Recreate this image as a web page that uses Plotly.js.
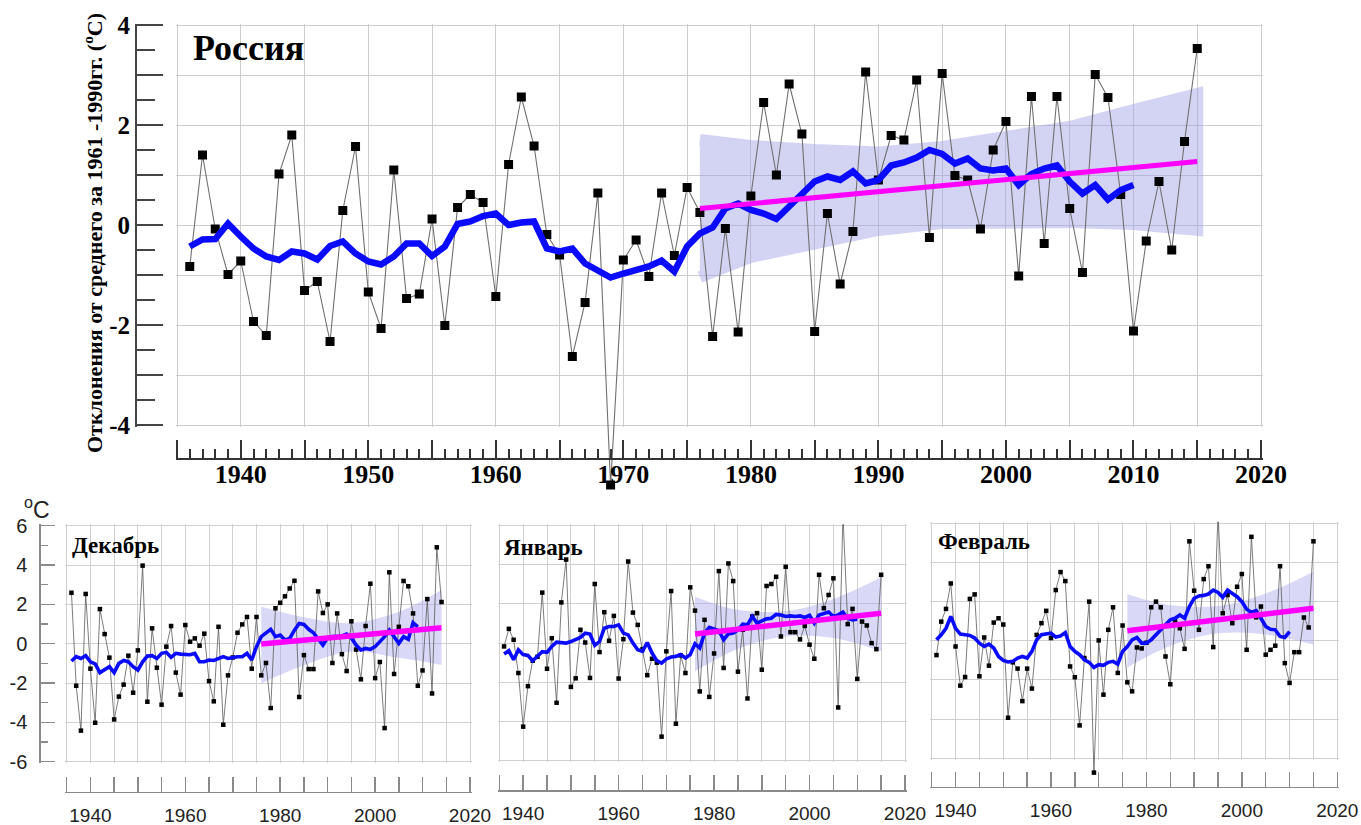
<!DOCTYPE html>
<html>
<head>
<meta charset="utf-8">
<script src="https://cdn.plot.ly/plotly-3.0.1.min.js"></script>
<style>
  html, body { margin: 0; padding: 0; background: #fff; }
  #chart { width: 1361px; height: 825px; }
</style>
</head>
<body>
<div id="chart"></div>
<script>
// ---------------- data ----------------
function yearsFrom(first, count) { const out = []; for (let i = 0; i < count; i++) out.push(first + i); return out; }

// Russia, mean annual temperature anomaly (vs 1961-1990), °C
const rusYears = yearsFrom(1936, 80);
const rusValues = [
  -0.83, 1.40, -0.08, -0.99, -0.72, -1.93, -2.21, 1.02, 1.80, -1.31,
  -1.13, -2.33, 0.29, 1.57, -1.34, -2.07, 1.10, -1.47, -1.38, 0.12,
  -2.01, 0.35, 0.61, 0.45, -1.43, 1.21, 2.56, 1.58, -0.19, -0.60,
  -2.63, -1.55, 0.64, -5.20, -0.70, -0.30, -1.03, 0.64, -0.61, 0.75,
  0.25, -2.23, -0.07, -2.14, 0.58, 2.45, 1.00, 2.82, 1.82, -2.13,
  0.23, -1.18, -0.13, 3.06, 0.90, 1.79, 1.70, 2.90, -0.25, 3.03,
  0.99, 0.90, -0.08, 1.50, 2.07, -1.02, 2.57, -0.37, 2.57, 0.33,
  -0.95, 3.01, 2.55, 0.61, -2.12, -0.32, 0.87, -0.50, 1.67, 3.53
];
const rusSmoothYears = yearsFrom(1936, 75);
const rusSmooth = [
  -0.43, -0.29, -0.28, 0.03, -0.23, -0.47, -0.63, -0.70, -0.53, -0.57,
  -0.69, -0.42, -0.33, -0.57, -0.73, -0.79, -0.63, -0.37, -0.37, -0.62,
  -0.43, 0.02, 0.07, 0.18, 0.23, 0.00, 0.05, 0.07, -0.47, -0.53,
  -0.47, -0.77, -0.91, -1.05, -0.97, -0.89, -0.83, -0.71, -0.93, -0.43,
  -0.17, -0.05, 0.33, 0.43, 0.30, 0.23, 0.12, 0.37, 0.63, 0.87,
  0.97, 0.90, 1.07, 0.83, 0.90, 1.19, 1.25, 1.35, 1.50, 1.42,
  1.23, 1.33, 1.13, 1.09, 1.13, 0.80, 1.02, 1.13, 1.19, 0.87,
  0.63, 0.80, 0.51, 0.70, 0.80
];
const rusTrendYears = [1976, 2015];
const rusTrend = [0.33, 1.27];
const rusBandYears = [1976, 1980, 1985, 1990, 1995, 2000, 2005, 2010, 2015];
const rusBandUpper = [1.70, 1.58, 1.50, 1.45, 1.56, 1.74, 1.96, 2.30, 2.62];
const rusBandLower = [-1.04, -0.64, -0.40, -0.10, 0.04, 0.06, 0.06, 0.02, -0.10];

// December
const decYears = yearsFrom(1936, 79);
const decValues = [
  2.59, -2.14, -4.42, 2.53, -1.27, -4.02, 1.76, 0.49, -0.71, -3.85,
  -2.69, -2.08, -0.61, -2.49, -0.34, 3.97, -2.95, 0.78, -1.22, -3.10,
  -0.15, 0.90, -1.47, -2.59, 0.95, 0.10, 0.27, -0.10, 0.51, -1.90,
  -2.93, 0.86, -4.12, -1.61, -0.70, 0.56, 0.98, 1.36, -1.27, 1.36,
  -1.61, -0.98, -3.27, 1.80, 2.08, 2.41, 2.81, 3.20, -2.71, -0.58,
  -1.29, -1.29, 2.66, 1.56, 2.00, -0.98, 1.54, -0.53, -1.39, 1.14,
  -0.30, -1.81, 0.90, 3.05, -1.75, -0.93, -4.29, 3.63, -1.54, 0.86,
  3.19, 2.92, 1.54, -2.14, -1.36, 2.27, -2.53, 4.90, 2.12
];
const decSmoothYears = yearsFrom(1936, 74);
const decSmooth = [
  -0.88, -0.66, -0.75, -0.61, -0.92, -1.03, -1.47, -1.34, -1.17, -1.47,
  -1.00, -0.85, -0.92, -1.17, -1.34, -0.92, -0.63, -0.61, -0.75, -0.49,
  -0.44, -0.69, -0.49, -0.53, -0.56, -0.56, -0.49, -0.92, -0.92, -0.83,
  -0.85, -0.75, -0.66, -0.75, -0.69, -0.66, -0.66, -0.49, -0.83, -0.15,
  0.36, 0.56, 0.73, 0.36, 0.44, 0.19, 0.27, 0.69, 1.03, 0.98,
  0.73, 0.56, 0.27, -0.07, 0.31, 0.36, 0.36, 0.39, 0.49, 0.29,
  -0.07, -0.32, -0.24, -0.29, -0.15, 0.10, 0.36, 0.69, 0.36, 0.02,
  0.36, 0.22, 1.07, 0.86
];
const decTrendYears = [1976, 2014];
const decTrend = [-0.02, 0.81];
const decBandYears = [1976, 1985, 1995, 2005, 2014];
const decBandUpper = [1.88, 1.35, 1.05, 1.62, 2.73];
const decBandLower = [-2.02, -1.10, -0.40, -0.72, -1.08];

// January
const janYears = yearsFrom(1936, 80);
const janValues = [
  -0.17, 0.73, 0.17, -1.53, -4.27, -2.20, -0.90, -0.70, 2.58, -1.31,
  0.25, -3.05, 2.08, 4.27, -2.24, -1.80, 0.68, 0.03, -1.78, 3.02,
  -0.46, 1.58, 0.12, 1.39, -1.81, 0.20, 4.17, 1.56, 0.93, -0.31,
  -1.64, -0.80, -1.00, -4.78, -0.42, 2.66, -4.12, -0.63, -1.53, 2.85,
  1.66, -2.47, 1.19, -2.75, -0.53, 3.68, -1.27, 4.07, 3.17, -1.46,
  0.68, -2.83, 1.36, 1.53, -1.36, 2.92, 3.02, 3.39, 0.34, 3.90,
  0.56, 0.56, 0.19, 0.88, -0.08, -0.80, 3.49, 1.78, 2.46, 3.31,
  -3.29, 6.58, 0.97, 1.75, -1.83, 1.10, 0.90, 0.00, -0.31, 3.49
];
const janSmoothYears = yearsFrom(1936, 75);
const janSmooth = [
  -0.56, -0.39, -0.85, -0.34, -0.59, -0.63, -0.90, -0.68, -0.44, -0.47,
  -0.17, 0.05, 0.03, 0.00, 0.08, 0.17, 0.29, 0.51, 0.46, -0.12,
  0.08, 0.76, 0.85, 0.85, 0.93, 0.51, 0.42, 0.00, -0.34, -0.42,
  0.03, -0.51, -0.90, -1.02, -0.81, -0.71, -0.68, -0.59, -0.76, -0.59,
  -0.03, -0.25, 0.51, 0.80, 0.71, 0.63, 0.17, 0.47, 0.51, 0.68,
  0.97, 0.93, 1.36, 1.02, 1.14, 1.24, 1.27, 1.47, 1.44, 1.36,
  1.39, 1.36, 1.39, 1.31, 1.42, 1.02, 1.44, 1.53, 1.59, 1.36,
  1.44, 1.58, 1.27, 1.19, 1.22
];
const janTrendYears = [1976, 2015];
const janTrend = [0.47, 1.53];
const janBandYears = [1976, 1985, 1995, 2005, 2015];
const janBandUpper = [2.37, 1.70, 1.64, 2.26, 3.36];
const janBandLower = [-1.44, -0.30, 0.34, 0.26, -0.42];

// February
const febYears = yearsFrom(1936, 80);
const febValues = [
  -0.73, 0.98, 1.63, 2.93, -0.29, -2.29, -1.85, 2.14, 2.37, -1.81,
  0.17, -1.27, 0.93, 1.15, 0.83, -3.93, -1.10, -1.42, -3.08, -1.42,
  -2.44, 0.30, 0.90, 1.53, 0.14, 2.59, 3.51, 3.05, -1.31, -1.86,
  -4.32, -0.88, 2.00, -6.73, 0.02, -2.75, 0.56, 1.71, -1.64, 0.78,
  -2.12, -2.58, -0.34, -0.39, -0.10, 1.71, 2.00, 1.71, -0.80, -2.22,
  1.00, 0.64, -0.41, 5.08, 2.56, 0.56, 3.15, 3.81, -0.32, 6.46,
  1.41, 2.34, 0.90, 2.76, 3.41, -0.46, 5.31, 1.20, 1.75, -0.71,
  -0.46, -0.25, 3.81, -1.14, -2.15, -0.58, -0.58, 1.19, 0.68, 5.08
];
const febSmoothYears = yearsFrom(1936, 75);
const febSmooth = [
  0.05, 0.31, 0.64, 1.24, 0.64, 0.34, 0.31, 0.27, 0.14, -0.12,
  -0.29, -0.17, -0.37, -0.80, -1.00, -1.08, -1.05, -0.88, -0.80, -0.88,
  -0.54, 0.05, 0.31, 0.34, 0.39, 0.19, 0.25, 0.42, -0.29, -0.54,
  -0.71, -0.97, -1.10, -1.36, -1.22, -1.25, -1.10, -1.05, -1.19, -0.54,
  -0.29, 0.05, 0.17, -0.12, -0.12, 0.05, 0.31, 0.56, 0.81, 1.07,
  1.15, 1.32, 1.15, 1.75, 2.17, 2.29, 2.32, 2.39, 2.59, 2.47,
  2.22, 2.59, 2.42, 2.25, 2.00, 1.61, 1.46, 1.54, 1.15, 0.73,
  0.59, 0.56, 0.22, 0.17, 0.47
];
const febTrendYears = [1976, 2015];
const febTrend = [0.51, 1.66];
const febBandYears = [1976, 1985, 1995, 2005, 2015];
const febBandUpper = [2.38, 1.83, 1.78, 2.42, 3.53];
const febBandLower = [-1.36, -0.27, 0.38, 0.32, -0.20];

// axis ticks and labels
const mainXTicks = [1935, 1940, 1945, 1950, 1955, 1960, 1965, 1970, 1975, 1980, 1985, 1990, 1995, 2000, 2005, 2010, 2015, 2020];
const mainXLabels = ['', '1940', '', '1950', '', '1960', '', '1970', '', '1980', '', '1990', '', '2000', '', '2010', '', '2020'];
const mainYTicks = [-4, -2, 0, 2, 4];
const mainYLabels = ['-4', '-2', '0', '2', '4'];
const mainYHalfTicks = [-3.5, -2.5, -1.5, -0.5, 0.5, 1.5, 2.5, 3.5];
const panelXTicks = [1940, 1960, 1980, 2000, 2020];
const panelXLabels = ['1940', '1960', '1980', '2000', '2020'];
const panelYTicks = [-6, -4, -2, 0, 2, 4, 6];
const panelYLabels = ['-6', '-4', '-2', '0', '2', '4', '6'];

// ---------------- layout helpers ----------------
const W = 1361, H = 825, PAD = 1.5;
const BLUE = '#0a0aff', MAGENTA = '#ff00ff';
const MAIN_AXIS_X = 136;

const charts = [
  { // Russia, annual
    box: { l: 177, r: 1261, t: 25, b: 425 }, yr: [-4, 4], dataBottom: 505, axisY: 459,
    years: rusYears, values: rusValues, smoothYears: rusSmoothYears, smooth: rusSmooth,
    trendYears: rusTrendYears, trend: rusTrend,
    bandYears: rusBandYears, bandUpper: rusBandUpper, bandLower: rusBandLower,
    main: true
  },
  { box: { l: 66.7, r: 470, t: 525.7, b: 761.7 }, yr: [-6, 6], dataBottom: 805, axisY: 791.5,
    years: decYears, values: decValues, smoothYears: decSmoothYears, smooth: decSmooth,
    trendYears: decTrendYears, trend: decTrend,
    bandYears: decBandYears, bandUpper: decBandUpper, bandLower: decBandLower, leftAxis: true },
  { box: { l: 499.3, r: 905, t: 525.7, b: 760.5 }, yr: [-6, 6], dataBottom: 805, axisY: 790,
    years: janYears, values: janValues, smoothYears: janSmoothYears, smooth: janSmooth,
    trendYears: janTrendYears, trend: janTrend,
    bandYears: janBandYears, bandUpper: janBandUpper, bandLower: janBandLower },
  { box: { l: 931.7, r: 1337.3, t: 523.3, b: 758.3 }, yr: [-6, 6], dataBottom: 805, axisY: 786.7,
    years: febYears, values: febValues, smoothYears: febSmoothYears, smooth: febSmooth,
    trendYears: febTrendYears, trend: febTrend,
    bandYears: febBandYears, bandUpper: febBandUpper, bandLower: febBandLower }
];

const layout = {
  width: W, height: H,
  margin: { l: 0, r: 0, t: 0, b: 0 },
  paper_bgcolor: '#ffffff',
  plot_bgcolor: 'rgba(0,0,0,0)',
  showlegend: false,
  hovermode: false,
  annotations: []
};
const traces = [];

charts.forEach((c, i) => {
  const g = i + 1, d = i + 5;
  const gx = g === 1 ? 'xaxis' : 'xaxis' + g, gy = g === 1 ? 'yaxis' : 'yaxis' + g;
  const gxId = g === 1 ? 'x' : 'x' + g, gyId = g === 1 ? 'y' : 'y' + g;
  const xs = (c.box.r - c.box.l) / 85;
  const ys = (c.box.b - c.box.t) / (c.yr[1] - c.yr[0]);
  const xdom = [(c.box.l - PAD) / W, (c.box.r + PAD) / W];
  const xrange = [1935 - PAD / xs, 2020 + PAD / xs];
  const gridColor = c.main ? '#cdcdcd' : '#d0d0d0';

  // background grid
  layout[gx] = {
    domain: xdom, range: xrange, anchor: gyId,
    tickmode: 'linear', tick0: 1935, dtick: 5,
    showgrid: true, gridcolor: gridColor, gridwidth: 1,
    showticklabels: false, ticks: '', zeroline: false, showline: false, fixedrange: true
  };
  const gyAxis = {
    domain: [1 - (c.box.b + PAD) / H, 1 - (c.box.t - PAD) / H],
    range: [c.yr[0] - PAD / ys, c.yr[1] + PAD / ys],
    showgrid: true, gridcolor: gridColor, gridwidth: 1, zeroline: false, fixedrange: true,
    tickmode: 'array'
  };
  if (c.main) {
    Object.assign(gyAxis, {
      tickvals: mainYTicks, ticktext: mainYLabels,
      anchor: 'free', position: MAIN_AXIS_X / W,
      showline: true, linecolor: '#444', linewidth: 2,
      ticks: 'inside', ticklen: 26, tickwidth: 2, tickcolor: '#444',
      tickfont: { family: 'Liberation Serif, Times New Roman, serif', size: 25, color: '#000', weight: 'bold' },
      minor: { tickmode: 'linear', tick0: 1, dtick: 1, ticks: 'inside', ticklen: 26, tickwidth: 2, tickcolor: '#444',
               showgrid: true, gridcolor: gridColor, gridwidth: 1 }
    });
  } else if (c.leftAxis) {
    Object.assign(gyAxis, {
      tickvals: panelYTicks, ticktext: panelYLabels,
      anchor: 'free', position: 39.3 / W,
      showline: true, linecolor: '#8a8a8a', linewidth: 1.5,
      ticks: 'inside', ticklen: 14, tickwidth: 1.5, tickcolor: '#8a8a8a',
      ticklabelstandoff: 8,
      tickfont: { family: 'Liberation Sans, Arial, sans-serif', size: 20, color: '#222' },
      minor: { tickmode: 'linear', tick0: 1, dtick: 1, ticks: 'inside', ticklen: 7, tickwidth: 1.5, tickcolor: '#8a8a8a', showgrid: false }
    });
  } else {
    Object.assign(gyAxis, {
      tickvals: panelYTicks, ticktext: panelYLabels,
      anchor: gxId, showticklabels: false, ticks: '', showline: false
    });
  }
  layout[gy] = gyAxis;
  // empty trace so the grid subplot is created
  traces.push({ type: 'scatter', xaxis: gxId, yaxis: gyId, x: [], y: [], mode: 'lines', hoverinfo: 'skip' });

  // data axes (bottom axis drawn apart from the grid box)
  const dx = 'xaxis' + d, dy = 'yaxis' + d;
  layout[dx] = {
    domain: xdom, range: xrange, anchor: 'free', position: 1 - c.axisY / H,
    tickmode: 'array', tickvals: c.main ? mainXTicks : panelXTicks, ticktext: c.main ? mainXLabels : panelXLabels,
    ticks: 'inside', showgrid: false, zeroline: false, showline: true, fixedrange: true,
    ticklen: c.main ? 18 : 15, tickwidth: c.main ? 2 : 1.5, tickcolor: c.main ? '#333' : '#8a8a8a',
    linecolor: c.main ? '#333' : '#8a8a8a', linewidth: c.main ? 2 : 1.5,
    ticklabelstandoff: c.main ? -8 : 6,
    tickfont: c.main
      ? { family: 'Liberation Serif, Times New Roman, serif', size: 26, color: '#000', weight: 'bold' }
      : { family: 'Liberation Sans, Arial, sans-serif', size: 19, color: '#222' },
    minor: c.main
      ? { tickmode: 'linear', tick0: 1935, dtick: 1, ticks: 'inside', ticklen: 9, tickwidth: 2, tickcolor: '#333', showgrid: false }
      : { tickmode: 'linear', tick0: 1935, dtick: 5, ticks: 'inside', ticklen: 15, tickwidth: 1.5, tickcolor: '#8a8a8a', showgrid: false }
  };
  layout[dy] = {
    domain: [1 - c.dataBottom / H, 1 - (c.box.t - PAD) / H],
    range: [c.yr[1] - (c.dataBottom - c.box.t) / ys, c.yr[1] + PAD / ys],
    anchor: 'x' + d, visible: false, fixedrange: true
  };
  if (c.main) {
    // the data axis shares the grid's scale: it carries the half-degree ticks
    Object.assign(layout[dy], {
      visible: true, anchor: 'free', position: MAIN_AXIS_X / W,
      tickmode: 'array', tickvals: mainYHalfTicks, showticklabels: false,
      ticks: 'inside', ticklen: 18, tickwidth: 2, tickcolor: '#444',
      showline: false, showgrid: false, zeroline: false
    });
  }

  const xa = 'x' + d, ya = 'y' + d;
  // confidence band of the linear trend
  if (c.main) {
    traces.push({
      type: 'scatter', xaxis: xa, yaxis: ya, mode: 'lines',
      x: c.bandYears.concat(c.bandYears.slice().reverse()),
      y: c.bandUpper.concat(c.bandLower.slice().reverse()),
      fill: 'toself', fillcolor: 'rgb(160,160,232)',
      line: { color: 'rgb(160,160,232)', width: 12 },
      opacity: 0.45, hoverinfo: 'skip'
    });
  } else {
    traces.push({
      type: 'scatter', xaxis: xa, yaxis: ya, mode: 'lines',
      x: c.bandYears, y: c.bandLower,
      line: { width: 0, shape: 'spline', smoothing: 1 }, hoverinfo: 'skip'
    });
    traces.push({
      type: 'scatter', xaxis: xa, yaxis: ya, mode: 'lines',
      x: c.bandYears, y: c.bandUpper, fill: 'tonexty', fillcolor: 'rgba(165,165,235,0.42)',
      line: { width: 0, shape: 'spline', smoothing: 1 }, hoverinfo: 'skip'
    });
  }
  // yearly values
  traces.push({
    type: 'scatter', xaxis: xa, yaxis: ya, mode: 'lines+markers',
    x: c.years, y: c.values, cliponaxis: false,
    line: { color: c.main ? '#707070' : '#5a5a5a', width: c.main ? 1.1 : 0.8 },
    marker: { symbol: 'square', size: c.main ? 9 : 4.5, color: '#000' }
  });
  // running mean
  traces.push({
    type: 'scatter', xaxis: xa, yaxis: ya, mode: 'lines',
    x: c.smoothYears, y: c.smooth,
    line: { color: BLUE, width: c.main ? 6.5 : 3.6 }
  });
  // linear trend since 1976
  traces.push({
    type: 'scatter', xaxis: xa, yaxis: ya, mode: 'lines',
    x: c.trendYears, y: c.trend,
    line: { color: MAGENTA, width: c.main ? 5 : 5.5 }
  });
});

// ---------------- texts ----------------
function note(text, xPx, yPx, font, extra) {
  layout.annotations.push(Object.assign({
    text: text, xref: 'paper', yref: 'paper', x: xPx / W, y: 1 - yPx / H,
    xanchor: 'left', yanchor: 'middle', showarrow: false, font: font
  }, extra || {}));
}
const serifBold = (s) => ({ family: 'Liberation Serif, Times New Roman, serif', size: s, color: '#000', weight: 'bold' });

note('Россия', 191, 48, serifBold(36));
note('Отклонения от среднего за 1961 -1990гг. (<sup>o</sup>C)', 93, 233, serifBold(22), { xanchor: 'center', textangle: -90 });
note('Декабрь', 70, 545, serifBold(23));
note('Январь', 502, 547, serifBold(23));
note('Февраль', 936, 541, serifBold(23));
note('<sup>o</sup>C', 22, 508, { family: 'Liberation Sans, Arial, sans-serif', size: 23, color: '#222' });

Plotly.newPlot('chart', traces, layout, { staticPlot: true, displayModeBar: false });
</script>
</body>
</html>
